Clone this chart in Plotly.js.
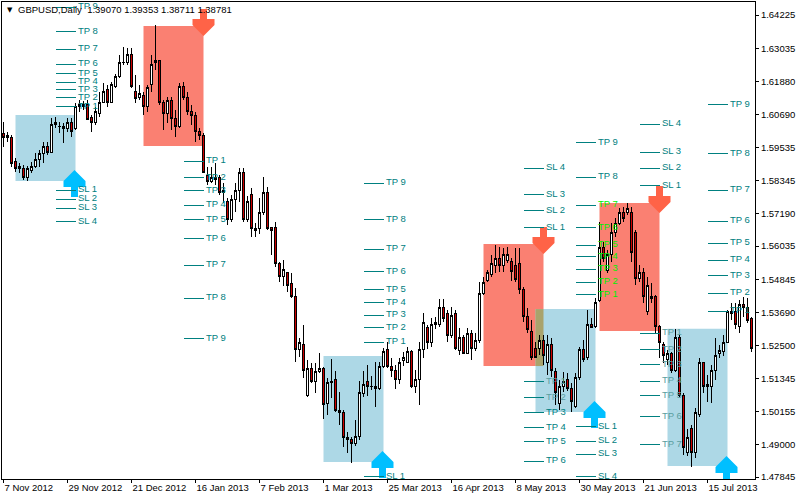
<!DOCTYPE html>
<html><head><meta charset="utf-8">
<script src="https://cdn.plot.ly/plotly-3.0.1.min.js"></script>
<style>html,body{margin:0;padding:0;background:#fff}#chart{width:800px;height:500px}
#chart .boxlayer path{shape-rendering:crispEdges}
#chart .scatterlayer .js-line{shape-rendering:crispEdges}
#chart .layer-below path{shape-rendering:crispEdges}
</style>
</head><body><div id="chart"></div>
<script>
// ---- price data (GBPUSD daily), one value per bar ----
const open = [1.6004,1.5994,1.5987,1.5905,1.5887,1.5880,1.5848,1.5870,1.5887,1.5912,
1.5930,1.5955,1.5937,1.6043,1.6029,1.6029,1.6022,1.6043,1.6022,1.6097,
1.6097,1.6104,1.6061,1.6040,1.6075,1.6114,1.6160,1.6114,1.6168,1.6203,
1.6253,1.6253,1.6281,1.6153,1.6132,1.6139,1.6100,1.6178,1.6256,1.6260,
1.6111,1.6075,1.6118,1.6057,1.6026,1.6171,1.6132,1.6079,1.6068,1.6008,
1.5997,1.5852,1.5831,1.5841,1.5848,1.5792,1.5763,1.5699,1.5767,1.5802,
1.5863,1.5696,1.5785,1.5664,1.5664,1.5721,1.5795,1.5668,1.5668,1.5543,
1.5494,1.5508,1.5469,1.5426,1.5235,1.5256,1.5072,1.5168,1.5125,1.5157,
1.5168,1.5047,1.5118,1.5132,1.5022,1.5015,1.4923,1.4919,1.4902,1.4927,
1.5082,1.5125,1.5107,1.5104,1.5100,1.5175,1.5235,1.5175,1.5164,1.5132,
1.5196,1.5192,1.5228,1.5104,1.5132,1.5235,1.5313,1.5260,1.5324,1.5324,
1.5387,1.5363,1.5285,1.5363,1.5232,1.5281,1.5224,1.5295,1.5239,1.5270,
1.5437,1.5483,1.5504,1.5536,1.5561,1.5536,1.5554,1.5547,1.5536,1.5540,
1.5451,1.5355,1.5299,1.5239,1.5239,1.5270,1.5192,1.5256,1.5157,1.5044,
1.5107,1.5132,1.5100,1.5033,1.5136,1.5235,1.5207,1.5327,1.5317,1.5409,
1.5600,1.5518,1.5572,1.5650,1.5685,1.5724,1.5724,1.5724,1.5650,1.5490,
1.5511,1.5373,1.5426,1.5423,1.5317,1.5256,1.5203,1.5221,1.5161,1.5281,
1.5075,1.4873,1.4955,1.4870,1.5005,1.5189,1.5111,1.5104,1.5161,1.5224,
1.5228,1.5263,1.5363,1.5370,1.5317,1.5395,1.5384,1.5345];
const high = [1.6043,1.6008,1.5998,1.5916,1.5898,1.5891,1.5887,1.5901,1.5933,1.5944,
1.5972,1.5972,1.6057,1.6061,1.6043,1.6040,1.6057,1.6057,1.6111,1.6121,
1.6118,1.6121,1.6068,1.6097,1.6150,1.6182,1.6175,1.6185,1.6214,1.6281,
1.6309,1.6306,1.6306,1.6210,1.6175,1.6150,1.6175,1.6281,1.6387,1.6263,
1.6121,1.6132,1.6132,1.6086,1.6182,1.6185,1.6150,1.6104,1.6079,1.6022,
1.6004,1.5884,1.5884,1.5898,1.5855,1.5827,1.5774,1.5785,1.5827,1.5880,
1.5880,1.5781,1.5810,1.5685,1.5774,1.5848,1.5813,1.5671,1.5689,1.5547,
1.5554,1.5511,1.5508,1.5455,1.5277,1.5324,1.5199,1.5189,1.5189,1.5224,
1.5175,1.5136,1.5203,1.5161,1.5086,1.5022,1.4944,1.4927,1.4987,1.5125,
1.5161,1.5182,1.5143,1.5192,1.5192,1.5242,1.5263,1.5207,1.5182,1.5207,
1.5228,1.5246,1.5235,1.5164,1.5263,1.5366,1.5324,1.5348,1.5352,1.5416,
1.5416,1.5377,1.5387,1.5377,1.5313,1.5288,1.5313,1.5306,1.5295,1.5476,
1.5494,1.5518,1.5572,1.5607,1.5600,1.5596,1.5600,1.5561,1.5596,1.5596,
1.5458,1.5384,1.5341,1.5263,1.5288,1.5288,1.5288,1.5277,1.5171,1.5129,
1.5157,1.5153,1.5118,1.5153,1.5246,1.5270,1.5377,1.5348,1.5419,1.5689,
1.5618,1.5589,1.5685,1.5703,1.5739,1.5742,1.5756,1.5742,1.5660,1.5536,
1.5525,1.5494,1.5473,1.5430,1.5324,1.5263,1.5235,1.5228,1.5310,1.5288,
1.5082,1.4955,1.4969,1.5029,1.5207,1.5192,1.5146,1.5182,1.5277,1.5253,
1.5288,1.5377,1.5401,1.5401,1.5412,1.5423,1.5419,1.5352];
const low = [1.5955,1.5972,1.5884,1.5866,1.5863,1.5838,1.5834,1.5863,1.5880,1.5884,
1.5898,1.5926,1.5933,1.6022,1.6004,1.5969,1.6008,1.5990,1.6015,1.6079,
1.6086,1.6050,1.6008,1.6033,1.6061,1.6111,1.6097,1.6111,1.6164,1.6200,
1.6246,1.6246,1.6164,1.6111,1.6121,1.6068,1.6079,1.6150,1.6228,1.6104,
1.6015,1.6040,1.6015,1.5990,1.6022,1.6121,1.6068,1.6033,1.5972,1.5980,
1.5863,1.5820,1.5827,1.5820,1.5785,1.5756,1.5678,1.5689,1.5724,1.5760,
1.5689,1.5689,1.5636,1.5636,1.5646,1.5714,1.5660,1.5572,1.5529,1.5476,
1.5462,1.5440,1.5419,1.5192,1.5210,1.5136,1.5069,1.5118,1.5083,1.5153,
1.4990,1.5005,1.5065,1.5015,1.4969,1.4891,1.4870,1.4834,1.4895,1.4916,
1.5069,1.5072,1.5093,1.5033,1.5093,1.5171,1.5171,1.5139,1.5097,1.5114,
1.5178,1.5189,1.5100,1.5083,1.5040,1.5207,1.5239,1.5246,1.5310,1.5317,
1.5334,1.5263,1.5277,1.5235,1.5217,1.5224,1.5221,1.5199,1.5232,1.5260,
1.5430,1.5476,1.5494,1.5508,1.5511,1.5511,1.5543,1.5480,1.5476,1.5433,
1.5334,1.5295,1.5199,1.5207,1.5217,1.5182,1.5146,1.5139,1.5040,1.5022,
1.5086,1.5090,1.5015,1.5029,1.5129,1.5192,1.5199,1.5313,1.5313,1.5405,
1.5547,1.5508,1.5547,1.5636,1.5678,1.5689,1.5714,1.5547,1.5465,1.5476,
1.5401,1.5359,1.5401,1.5295,1.5207,1.5189,1.5182,1.5153,1.5157,1.5069,
1.4863,1.4859,1.4820,1.4852,1.4997,1.5083,1.5051,1.5047,1.5129,1.5207,
1.5214,1.5260,1.5341,1.5310,1.5295,1.5352,1.5331,1.5228];
const close = [1.5990,1.5987,1.5898,1.5880,1.5877,1.5845,1.5877,1.5887,1.5912,1.5933,
1.5958,1.5937,1.6033,1.6033,1.6026,1.6022,1.6043,1.6011,1.6097,1.6107,
1.6107,1.6054,1.6040,1.6079,1.6114,1.6153,1.6114,1.6175,1.6203,1.6256,
1.6256,1.6281,1.6168,1.6125,1.6143,1.6100,1.6164,1.6246,1.6263,1.6111,
1.6072,1.6118,1.6057,1.6026,1.6171,1.6129,1.6079,1.6065,1.6008,1.5994,
1.5866,1.5831,1.5845,1.5848,1.5795,1.5802,1.5699,1.5767,1.5802,1.5863,
1.5696,1.5760,1.5664,1.5660,1.5721,1.5795,1.5664,1.5660,1.5543,1.5494,
1.5522,1.5465,1.5426,1.5235,1.5260,1.5164,1.5168,1.5125,1.5157,1.5168,
1.5040,1.5118,1.5125,1.5019,1.5012,1.4923,1.4919,1.4902,1.4927,1.5086,
1.5114,1.5104,1.5104,1.5100,1.5175,1.5228,1.5175,1.5164,1.5129,1.5192,
1.5207,1.5228,1.5104,1.5132,1.5235,1.5334,1.5260,1.5324,1.5334,1.5387,
1.5345,1.5285,1.5359,1.5239,1.5281,1.5224,1.5295,1.5242,1.5267,1.5437,
1.5476,1.5508,1.5543,1.5561,1.5533,1.5572,1.5575,1.5515,1.5486,1.5451,
1.5352,1.5306,1.5210,1.5210,1.5270,1.5217,1.5256,1.5161,1.5086,1.5107,
1.5125,1.5100,1.5051,1.5136,1.5235,1.5203,1.5327,1.5313,1.5405,1.5600,
1.5561,1.5572,1.5653,1.5685,1.5721,1.5703,1.5735,1.5579,1.5487,1.5511,
1.5423,1.5465,1.5419,1.5317,1.5260,1.5217,1.5221,1.5161,1.5281,1.5075,
1.4888,1.4923,1.4870,1.5012,1.5189,1.5107,1.5104,1.5164,1.5217,1.5232,
1.5263,1.5370,1.5373,1.5324,1.5395,1.5387,1.5341,1.5242];

// ---- axis ticks ----
const xTickBars = [0,16,32,48,64,80,96,112,128,144,160,176];
const xTickLabels = ['7 Nov 2012','29 Nov 2012','21 Dec 2012','16 Jan 2013','7 Feb 2013','1 Mar 2013',
  '25 Mar 2013','16 Apr 2013','8 May 2013','30 May 2013','21 Jun 2013','15 Jul 2013'];
const yTickLabels = ['1.64225','1.63035','1.61880','1.60690','1.59535','1.58345','1.57190','1.56035',
  '1.54845','1.53690','1.52500','1.51345','1.50155','1.49000','1.47845'];

// ---- signal zones ----
const sigType   = ['buy','sell','buy','sell','buy','sell','buy'];
const sigStart  = [3, 35, 80, 120, 133, 149, 166];
const sigEnd    = [18, 50, 95, 135, 148, 164, 181];
const sigTop    = [1.6068, 1.6384, 1.5214, 1.5611, 1.5380, 1.5756, 1.5310];
const sigBottom = [1.5834, 1.5958, 1.4838, 1.5178, 1.5015, 1.5302, 1.4824];
const sigArrow  = [1.5873, 1.6348, 1.4877, 1.5575, 1.5054, 1.5721, 1.4859];
// take-profit / stop-loss levels (TP 1.., SL 1..)
const tp1 = [1.6097,1.6129,1.6157,1.6185,1.6214,1.6249,1.6302,1.6363,1.6451];
const sl1 = [1.5802,1.5770,1.5738,1.5689];
const tp2 = [1.5905,1.5845,1.5799,1.5749,1.5696,1.5629,1.5536,1.5419,1.5274];
const sl2 = [];
const tp3 = [1.5263,1.5313,1.5359,1.5402,1.5448,1.5512,1.5593,1.5696,1.5827];
const sl3 = [1.4785];
const tp4 = [1.5122,1.5065,1.5012,1.4959,1.4909,1.4841];
const sl4 = [1.5668,1.5728,1.5785,1.5880];
const tp5 = [1.5430,1.5476,1.5522,1.5565,1.5607,1.5668,1.5749,1.5848,1.5972];
const sl5 = [1.4962,1.4912,1.4866,1.4785];
const tp6 = [1.5295,1.5238,1.5182,1.5125,1.5072,1.4998,1.4899];
const sl6 = [1.5817,1.5880,1.5937,1.6036];
const tp7 = [1.5373,1.5437,1.5498,1.5554,1.5614,1.5692,1.5802,1.5933,1.6104];
const sl7 = [];
const headerText = 'GBPUSD,Daily  1.39070 1.39353 1.38711 1.38781';

// ---- build ----
const bars = open.map((_, i) => i);
const tpAll = [tp1,tp2,tp3,tp4,tp5,tp6,tp7];
const slAll = [sl1,sl2,sl3,sl4,sl5,sl6,sl7];
const BLUE = '#ADD8E6', SALMON = '#FA8072', TEAL = '#008080';

function labelColor(xk, p, self) {
  for (let j = 0; j < sigType.length; j++) {
    if (j === self) continue;
    if (xk >= sigStart[j] && xk <= sigEnd[j] && p <= sigTop[j] && p >= sigBottom[j]) {
      return sigType[j] === 'sell' ? '#00F000' : '#5A9EA0';
    }
  }
  return TEAL;
}

const lx = [], ly = [], tx = [], ty = [], tt = [], tc = [];
for (let s = 0; s < sigType.length; s++) {
  const groups = [['TP', tpAll[s]], ['SL', slAll[s]]];
  groups.forEach(([lab, arr]) => {
    arr.forEach((p, i) => {
      lx.push(sigEnd[s] - 5, sigEnd[s], null); ly.push(p, p, null);
      tx.push(sigEnd[s] + 0.6); ty.push(p); tt.push(lab + ' ' + (i + 1));
      tc.push(labelColor(sigEnd[s] + 2, p, s));
    });
  });
}

const shapes = [];
for (let s = 0; s < sigType.length; s++) {
  shapes.push({type:'rect', layer:'below', xref:'x', yref:'y', x0: sigStart[s], x1: sigEnd[s],
    y0: sigBottom[s], y1: sigTop[s], fillcolor: sigType[s] === 'buy' ? BLUE : SALMON, line:{width:0}});
}
// overlap of buy/sell zones
for (let a = 0; a < sigType.length; a++) for (let b = a + 1; b < sigType.length; b++) {
  if (sigType[a] === sigType[b]) continue;
  const x0 = Math.max(sigStart[a], sigStart[b]), x1 = Math.min(sigEnd[a], sigEnd[b]);
  const y0 = Math.max(sigBottom[a], sigBottom[b]), y1 = Math.min(sigTop[a], sigTop[b]);
  if (x1 > x0 && y1 > y0) shapes.push({type:'rect', layer:'below', xref:'x', yref:'y', x0, x1, y0, y1,
    fillcolor:'#A9A36C', line:{width:0}});
}
const upPath = 'M0,0 L11,-11 L11,-17 L3.5,-17 L3.5,-27 L-3.5,-27 L-3.5,-17 L-11,-17 L-11,-11 Z';
const dnPath = 'M0,0 L11,11 L11,17 L3.5,17 L3.5,27 L-3.5,27 L-3.5,17 L-11,17 L-11,11 Z';
for (let s = 0; s < sigType.length; s++) {
  const buy = sigType[s] === 'buy';
  shapes.push({type:'path', layer:'below', xref:'x', yref:'y', xsizemode:'pixel', ysizemode:'pixel',
    xanchor: buy ? sigEnd[s] - 0.25 : sigEnd[s], yanchor: sigArrow[s], path: buy ? upPath : dnPath,
    fillcolor: buy ? '#00BFFF' : '#FF6347', line:{width:0}});
}

const FONT = 'Liberation Sans, Arial, sans-serif';
const traces = [
  {type:'scatter', mode:'lines', x: lx, y: ly, line:{color:TEAL, width:1}, hoverinfo:'skip', showlegend:false},
  {type:'scatter', mode:'text', x: tx, y: ty, text: tt, textposition:'middle right',
    textfont:{family:FONT, size:9.5, color: tc}, hoverinfo:'skip', showlegend:false},
  {type:'candlestick', x: bars, open, high, low, close, whiskerwidth:0,
    increasing:{line:{color:'#000', width:1}, fillcolor:'#FFFFFF'},
    decreasing:{line:{color:'#000', width:1}, fillcolor:'#CC0000'},
    hoverinfo:'skip', showlegend:false}
];

const layout = {
  width: 800, height: 500,
  margin: {l:2, r:45, t:2, b:21},
  paper_bgcolor:'#fff', plot_bgcolor:'#fff',
  showlegend:false, boxgap:0, boxgroupgap:0.5,
  font:{family:FONT, size:9.5, color:'#000'},
  xaxis: {range:[-0.375, 187.875], showgrid:false, zeroline:false, showline:true, mirror:true,
    linecolor:'#000', linewidth:1, ticks:'outside', ticklen:3, tickcolor:'#000',
    tickvals: xTickBars, ticktext: xTickLabels, ticklabelposition:'outside right',
    rangeslider:{visible:false}, fixedrange:true, tickfont:{family:FONT, size:9.5}},
  yaxis: {range:[1.47775, 1.64689], side:'right', showgrid:false, zeroline:false, showline:true, mirror:true,
    linecolor:'#000', linewidth:1, ticks:'outside', ticklen:3, tickcolor:'#000',
    tickvals: yTickLabels.map(Number), ticktext: yTickLabels, fixedrange:true, tickfont:{family:FONT, size:9.5}},
  shapes,
  annotations: [
    {xref:'paper', yref:'paper', x:0.004, y:0.984, xanchor:'left', yanchor:'middle', text:'▼', showarrow:false,
      font:{family:'DejaVu Sans', size:7, color:'#000'}},
    {xref:'paper', yref:'paper', x:0.019, y:0.984, xanchor:'left', yanchor:'middle', text: headerText, showarrow:false,
      font:{family:FONT, size:9.5, color:'#000'}}
  ]
};

Plotly.newPlot('chart', traces, layout, {staticPlot:true, displayModeBar:false});
</script>
</body></html>
